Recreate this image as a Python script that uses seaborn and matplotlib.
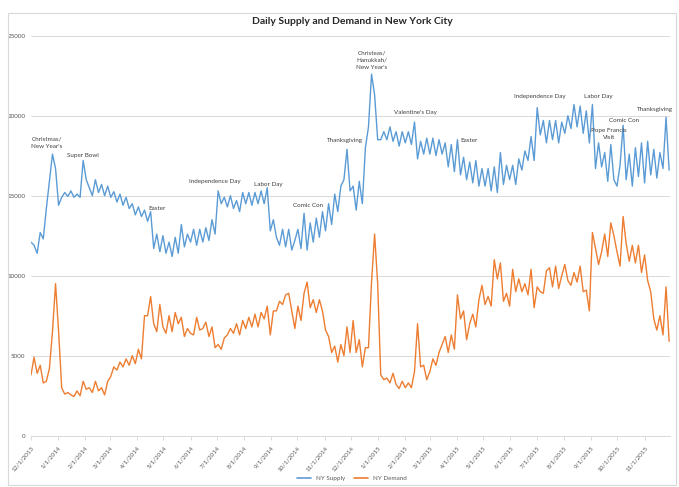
import matplotlib
matplotlib.use('Agg')
from matplotlib import pyplot as plt
import matplotlib.dates as mdates
from matplotlib.ticker import FuncFormatter
import numpy as np
import pandas as pd
import seaborn as sns

# half-week samples starting 12/1/2013
start_date = '2013-12-01'

ny_supply = [
    12100, 11900, 11400, 12700, 12300, 14200, 15900, 17600, 16700, 14400,
    14900, 15200, 14950, 15300, 14900, 15100, 14900, 17200, 16000, 15500,
    15000, 16000, 15200, 15700, 15000, 15600, 14900, 15250, 14600, 15100,
    14400, 14900, 14200, 14500, 13800, 14300, 13700, 14100, 13400, 14000,
    11700, 12600, 11500, 12500, 11400, 12100, 11200, 12400, 11400, 13200,
    11800, 12600, 12100, 12900, 11900, 12900, 12100, 13000, 12200, 13500,
    12600, 15300, 14500, 14900, 14300, 15000, 14200, 14700, 14000, 15200,
    14500, 15200, 14400, 15200, 14500, 15300, 14500, 15500, 12800, 13500,
    12400, 11900, 12900, 11800, 12900, 11600, 12200, 12900, 11700, 13900,
    11600, 13300, 12100, 13600, 12400, 14000, 12800, 14500, 13200, 15100,
    14000, 15600, 16000, 17900, 15300, 15600, 14100, 15900, 14500, 18000,
    19300, 22600, 21300, 18500, 18500, 19000, 18500, 19300, 18400, 19000,
    18100, 19000, 18300, 19000, 18200, 19600, 17300, 18400, 17600, 18600,
    17600, 18600, 17500, 18500, 17600, 18300, 16800, 18200, 16500, 18500,
    16300, 17400, 16000, 17100, 15800, 17200, 15600, 16700, 15600, 16700,
    15300, 16800, 15200, 17700, 15700, 16900, 16000, 16900, 15700, 17300,
    16600, 17800, 17200, 18700, 17200, 20500, 18800, 19700, 18300, 19700,
    18500, 19700, 18300, 19600, 18900, 20000, 19200, 20700, 19300, 20600,
    18900, 20300, 18300, 20700, 16700, 18300, 16800, 17700, 15900, 18200,
    16000, 15600, 16900, 19400, 16000, 17600, 15600, 18000, 16200, 18300,
    15800, 18400, 16300, 17900, 16100, 17700, 16700, 19900, 16600,
]

ny_demand = [
    3800, 4900, 3900, 4400, 3300, 3400, 4200, 6500, 9500, 6500,
    3000, 2600, 2700, 2550, 2450, 2800, 2500, 3400, 2900, 3000,
    2700, 3400, 2800, 3000, 2550, 3400, 3700, 4300, 4100, 4600,
    4300, 4800, 4400, 5000, 4500, 5400, 4800, 7500, 7500, 8700,
    7000, 6500, 8200, 6800, 6400, 7500, 6500, 7700, 7000, 7400,
    6200, 6700, 6400, 6300, 7400, 6600, 6700, 7100, 6200, 6800,
    5500, 5700, 5400, 6100, 6300, 6700, 6400, 7000, 6300, 7200,
    6700, 7400, 6800, 7600, 6800, 7700, 7300, 8100, 6300, 7800,
    7800, 8400, 8200, 8800, 8900, 7800, 6700, 8100, 7200, 8900,
    9600, 8000, 8500, 7700, 8500, 7800, 6600, 6200, 5200, 5600,
    4600, 5700, 5000, 6800, 5200, 7200, 5200, 6000, 4300, 5500,
    5500, 9600, 12600, 9500, 3800, 3500, 3600, 3300, 3900, 3200,
    2950, 3400, 3000, 3300, 3000, 4000, 7000, 4300, 4400, 3500,
    4000, 4800, 4400, 5200, 5700, 6200, 5200, 6300, 5400, 8800,
    7300, 7800, 6000, 7000, 7600, 6800, 8500, 9400, 8200, 8700,
    8100, 11000, 9800, 10800, 8400, 8900, 8100, 10400, 9000, 9800,
    9000, 9500, 8800, 10400, 8000, 9300, 9000, 8900, 10300, 10500,
    9300, 10600, 9200, 10000, 10700, 9700, 9400, 10200, 9600, 10600,
    9000, 9100, 7800, 12700, 11700, 10700, 11500, 12600, 11200, 13300,
    12500, 11500, 10600, 13700, 12000, 10900, 11900, 10800, 11900, 10200,
    11300, 9700, 9000, 7300, 6600, 7500, 6300, 9300, 5900,
]

event_labels = ['Christmas/\nNew Year\'s', 'Super Bowl', 'Easter', 'Independence Day',
                'Labor Day', 'Comic Con', 'Thanksgiving', 'Christeas/\nHanukkah/\nNew Year\'s',
                'Valentine\'s Day', 'Easter', 'Independence Day', 'Labor Day',
                'Pope Francis\nVisit', 'Comic Con', 'Thanksgiving']
event_dates = ['2013-12-19', '2014-01-29', '2014-04-24', '2014-06-29', '2014-08-29',
               '2014-10-13', '2014-11-24', '2014-12-25', '2015-02-13', '2015-04-15',
               '2015-07-04', '2015-09-09', '2015-09-21', '2015-10-09', '2015-11-13']
event_y = [18300, 17540, 14230, 15860, 15730, 14360, 18420, 23480, 20230, 18420,
           21230, 21170, 18860, 19670, 20360]

dates = pd.date_range(start_date, periods=len(ny_supply), freq='84h')
df = pd.DataFrame({
    'date': np.concatenate([dates, dates]),
    'value': ny_supply + ny_demand,
    'series': ['NY Supply'] * len(ny_supply) + ['NY Demand'] * len(ny_demand),
})

sns.set_theme(style='white')
plt.rcParams['font.family'] = ['Lato', 'DejaVu Sans']

fig = plt.figure(figsize=(6.79, 4.87), dpi=100)
ax = fig.add_axes([31 / 679, 1 - 435.7 / 487, 639 / 679, 400 / 487])

colors = {'NY Supply': '#5B9BD5', 'NY Demand': '#ED7D31'}
sns.lineplot(data=df, x='date', y='value', hue='series', palette=colors,
             linewidth=1.0, ax=ax, legend=False)

ax.set_ylim(0, 25000)
ax.set_xlim(pd.Timestamp('2013-12-01'), pd.Timestamp('2015-11-30'))
ax.set_yticks(range(0, 25001, 5000))
ax.yaxis.grid(True, color='#D9D9D9', linewidth=0.7)
ax.xaxis.grid(False)
for s in ['top', 'right', 'left']:
    ax.spines[s].set_visible(False)
ax.spines['bottom'].set_color('#D9D9D9')
ax.spines['bottom'].set_linewidth(0.7)

ax.xaxis.set_major_locator(mdates.MonthLocator(bymonthday=1))
ax.xaxis.set_major_formatter(FuncFormatter(
    lambda v, p: (lambda d: f'{d.month}/{d.day}/{d.year}')(mdates.num2date(v))))
ax.tick_params(axis='x', which='major', length=3, color='#D9D9D9', width=0.7,
               labelsize=4.5, labelcolor='#595959', pad=4, bottom=True)
ax.tick_params(axis='y', length=0, labelsize=4.5, labelcolor='#595959', pad=4)
for lab in ax.get_xticklabels():
    lab.set_rotation(50)
    lab.set_ha('right')
    lab.set_rotation_mode('anchor')
ax.set_xlabel('')
ax.set_ylabel('')

for lab, d, y in zip(event_labels, event_dates, event_y):
    ax.text(pd.Timestamp(d), y, lab, ha='center', va='center', fontsize=4.5,
            color='#404040', linespacing=1.5)

fig.text(352 / 679, 1 - 22 / 487, 'Daily Supply and Demand in New York City',
         ha='center', va='center', fontsize=7.5, fontweight='bold', color='#262626')

handles = [plt.Line2D([], [], color=colors[k], linewidth=1.2) for k in colors]
fig.legend(handles, list(colors.keys()), loc='center', bbox_to_anchor=(352 / 679, 1 - 478 / 487),
           ncol=2, frameon=False, fontsize=4.5, handlelength=2.2, columnspacing=1.5,
           labelcolor='#595959')

border = plt.Rectangle((8 / 679, 2 / 487), 668 / 679, 472 / 487, transform=fig.transFigure,
                       fill=False, edgecolor='#D9D9D9', linewidth=0.8)
fig.patches.append(border)

fig.savefig('out.png', dpi=100)
